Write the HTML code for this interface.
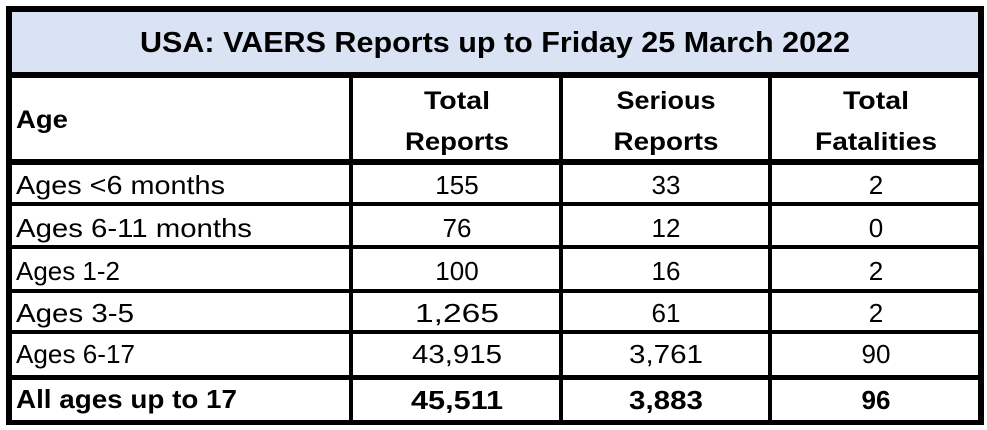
<!DOCTYPE html>
<html><head><style>html,body{margin:0;padding:0;background:#fff}svg{display:block}</style></head><body>
<svg width="987" height="430" xmlns="http://www.w3.org/2000/svg" font-family="'Liberation Sans', Arial, sans-serif" fill="#000">
<rect x="0" y="0" width="987" height="430" fill="#fff"/>
<rect x="9" y="9" width="972" height="66" fill="#dae3f3"/>
<!-- horizontal lines -->
<rect x="6" y="6" width="978" height="6"/>
<rect x="6" y="72" width="978" height="6"/>
<rect x="6" y="159" width="978" height="6"/>
<rect x="6" y="202" width="978" height="4"/>
<rect x="6" y="245" width="978" height="4"/>
<rect x="6" y="289" width="978" height="4"/>
<rect x="6" y="330" width="978" height="4"/>
<rect x="6" y="375" width="978" height="5"/>
<rect x="6" y="420" width="978" height="5"/>
<!-- vertical lines -->
<rect x="6" y="6" width="6" height="419"/>
<rect x="978" y="6" width="6" height="419"/>
<rect x="349" y="75" width="4" height="350"/>
<rect x="559" y="75" width="4" height="350"/>
<rect x="768" y="75" width="4" height="350"/>
<!-- title -->
<text x="495" y="52" font-size="29" font-weight="bold" text-anchor="middle" textLength="710" lengthAdjust="spacingAndGlyphs">USA: VAERS Reports up to Friday 25 March 2022</text>
<!-- header -->
<g font-size="25" font-weight="bold">
<text x="16" y="128" textLength="52" lengthAdjust="spacingAndGlyphs">Age</text>
<text x="457" y="109" text-anchor="middle" textLength="66" lengthAdjust="spacingAndGlyphs">Total</text>
<text x="457" y="150" text-anchor="middle" textLength="104" lengthAdjust="spacingAndGlyphs">Reports</text>
<text x="666" y="109" text-anchor="middle" textLength="99" lengthAdjust="spacingAndGlyphs">Serious</text>
<text x="666" y="150" text-anchor="middle" textLength="105" lengthAdjust="spacingAndGlyphs">Reports</text>
<text x="876" y="109" text-anchor="middle" textLength="66" lengthAdjust="spacingAndGlyphs">Total</text>
<text x="876" y="150" text-anchor="middle" textLength="122" lengthAdjust="spacingAndGlyphs">Fatalities</text>
</g>
<!-- rows -->
<g font-size="26">
<text x="16" y="194" textLength="209" lengthAdjust="spacingAndGlyphs">Ages &lt;6 months</text>
<text x="457" y="194" text-anchor="middle">155</text>
<text x="666" y="194" text-anchor="middle">33</text>
<text x="876" y="194" text-anchor="middle">2</text>
<text x="16" y="237" textLength="236" lengthAdjust="spacingAndGlyphs">Ages 6-11 months</text>
<text x="457" y="237" text-anchor="middle">76</text>
<text x="666" y="237" text-anchor="middle">12</text>
<text x="876" y="237" text-anchor="middle">0</text>
<text x="16" y="280" textLength="104" lengthAdjust="spacingAndGlyphs">Ages 1-2</text>
<text x="457" y="280" text-anchor="middle">100</text>
<text x="666" y="280" text-anchor="middle">16</text>
<text x="876" y="280" text-anchor="middle">2</text>
<text x="16" y="322" textLength="118" lengthAdjust="spacingAndGlyphs">Ages 3-5</text>
<text x="457" y="322" text-anchor="middle" textLength="84" lengthAdjust="spacingAndGlyphs">1,265</text>
<text x="666" y="322" text-anchor="middle">61</text>
<text x="876" y="322" text-anchor="middle">2</text>
<text x="16" y="363" textLength="119" lengthAdjust="spacingAndGlyphs">Ages 6-17</text>
<text x="457" y="363" text-anchor="middle" textLength="90" lengthAdjust="spacingAndGlyphs">43,915</text>
<text x="666" y="363" text-anchor="middle" textLength="74" lengthAdjust="spacingAndGlyphs">3,761</text>
<text x="876" y="363" text-anchor="middle">90</text>
</g>
<g font-size="26" font-weight="bold">
<text x="16" y="408" textLength="221" lengthAdjust="spacingAndGlyphs">All ages up to 17</text>
<text x="457" y="409" text-anchor="middle" textLength="92" lengthAdjust="spacingAndGlyphs">45,511</text>
<text x="666" y="409" text-anchor="middle" textLength="74" lengthAdjust="spacingAndGlyphs">3,883</text>
<text x="876" y="409" text-anchor="middle">96</text>
</g>
</svg>
</body></html>
